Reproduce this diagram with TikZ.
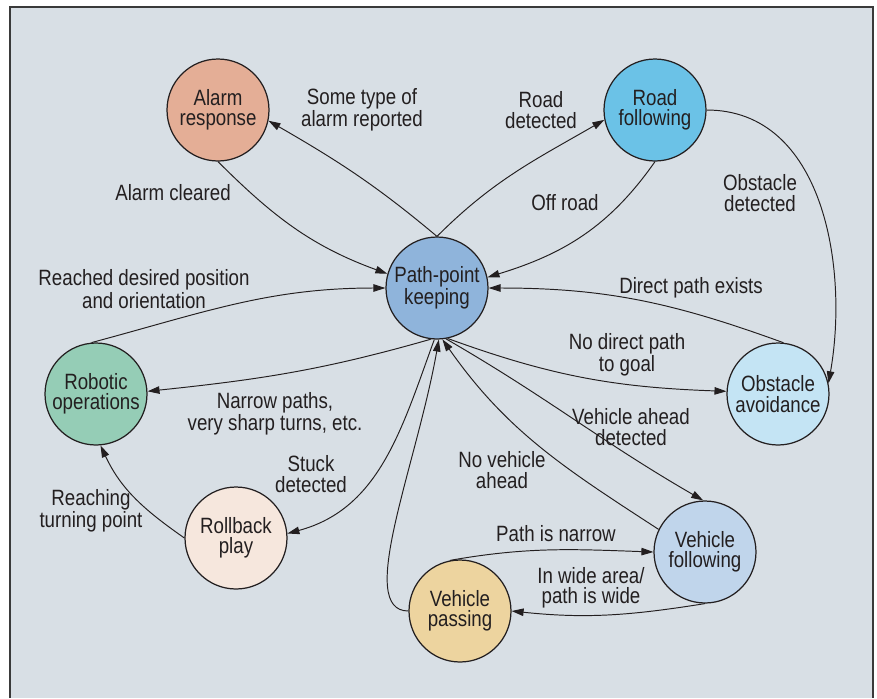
\documentclass[tikz,border=0pt]{standalone}
\usepackage{fontspec}
\setmainfont{Liberation Sans}[FakeStretch=0.845]
\usetikzlibrary{arrows.meta}

\definecolor{bgblue}{HTML}{D8DFE5}
\definecolor{framegray}{HTML}{3A3A3A}
\definecolor{txtgray}{HTML}{231F20}
\definecolor{alarmc}{HTML}{E4AE96}
\definecolor{roadc}{HTML}{6BC2E7}
\definecolor{pathc}{HTML}{8FB4DB}
\definecolor{roboc}{HTML}{95CDB6}
\definecolor{obstc}{HTML}{C4E4F4}
\definecolor{rollc}{HTML}{F6E7DD}
\definecolor{followc}{HTML}{C0D5EB}
\definecolor{passc}{HTML}{EDD49F}

\newcommand{\lblfont}{\fontsize{12.6}{11.6}\selectfont}

\begin{document}
\begin{tikzpicture}[x=0.02cm, y=0.02cm,
  state/.style={circle, draw=txtgray, line width=0.7pt, minimum size=2.04cm,
    inner sep=0pt, align=center, font=\lblfont, text=txtgray},
  lbl/.style={align=center, font=\lblfont, inner sep=0pt, text=txtgray},
  trans/.style={-{Triangle[length=2.4mm,width=1.5mm]}, line width=0.55pt, draw=txtgray}]

\useasboundingbox (0,0) rectangle (877,-698);

% Frame
\fill[bgblue] (10,-7) rectangle (873,-698);
\draw[framegray, line width=1.1pt] (10,-698) -- (10,-7) -- (873,-7) -- (873,-698);

% States
\node[state, fill=alarmc] (alarm) at (218,-110) {Alarm\\response};
\node[state, fill=roadc] (road) at (655,-110) {Road\\following};
\node[state, fill=pathc] (path) at (437,-288) {Path-point\\keeping};
\node[state, fill=roboc] (robot) at (96,-394) {Robotic\\operations};
\node[state, fill=obstc] (obst) at (778,-394) {Obstacle\\avoidance};
\node[state, fill=rollc] (roll) at (236,-538) {Rollback\\play};
\node[state, fill=followc] (follow) at (705,-552) {Vehicle\\following};
\node[state, fill=passc] (pass) at (460,-611) {Vehicle\\passing};

% Transitions
\draw[trans] (path.90) to[out=140,in=-30] (alarm.-12);
\draw[trans] (alarm.-90) to[out=-45,in=160] (path.164);
\draw[trans] (path.90) to[out=45,in=-150] (road.-169);
\draw[trans] (road.-90) to[out=-125,in=17] (path.12);
\draw[trans] (road.0) to[out=0,in=80] (obst.12);
\draw[trans] (obst.84) to[out=160,in=0] (path.0);
\draw[trans] (path.-78) to[out=-20,in=178] (obst.177);
\draw[trans] (robot.95) to[out=15,in=180] (path.180);
\draw[trans] (path.-97) to[out=-164,in=6] (robot.3);
\draw[trans] (path.-93) to[out=-110,in=15] (roll.5);
\draw[trans] (roll.180) to[out=145,in=-65] (robot.-85);
\draw[trans] (pass.180) to[out=180,in=-100,out looseness=0.5,in looseness=1.2] (path.-88);
\draw[trans] (follow.154) to[out=147,in=-55] (path.-84);
\draw[trans] (path.-80) to[out=-30,in=150] (follow.92);
\draw[trans] (pass.101) to[out=10,in=178] (follow.180);
\draw[trans] (follow.-90) to[out=-171,in=-6] (pass.0);

% Labels
\node[lbl] (alarmup) at (362,-110) {Some type of\\alarm reported};
\node[lbl] (alarmdown) at (173,-193) {Alarm cleared};
\node[lbl] (roadup) at (541,-110) {Road\\detected};
\node[lbl] (roaddown) at (565,-203) {Off road};
\node[lbl] (obstup) at (760,-193) {Obstacle\\detected};
\node[lbl] (obstdown) at (691,-288) {Direct path exists};
\node[lbl] (obstto) at (627,-355) {No direct path\\to goal};
\node[lbl] (robotdown) at (144,-289) {Reached desired position\\and orientation};
\node[lbl] (robotto) at (275,-414) {Narrow paths,\\very sharp turns, etc.};
\node[lbl] (rollto) at (311,-474) {Stuck\\detected};
\node[lbl] (rolldown) at (91,-511) {Reaching\\turning point};
\node[lbl] (passdown) at (502,-470) {No vehicle\\ahead};
\node[lbl] (followto) at (631,-427) {Vehicle ahead\\detected};
\node[lbl] (passto) at (556,-534) {Path is narrow};
\node[lbl] (followdown) at (591,-588) {In wide area/\\path is wide};

\end{tikzpicture}
\end{document}
